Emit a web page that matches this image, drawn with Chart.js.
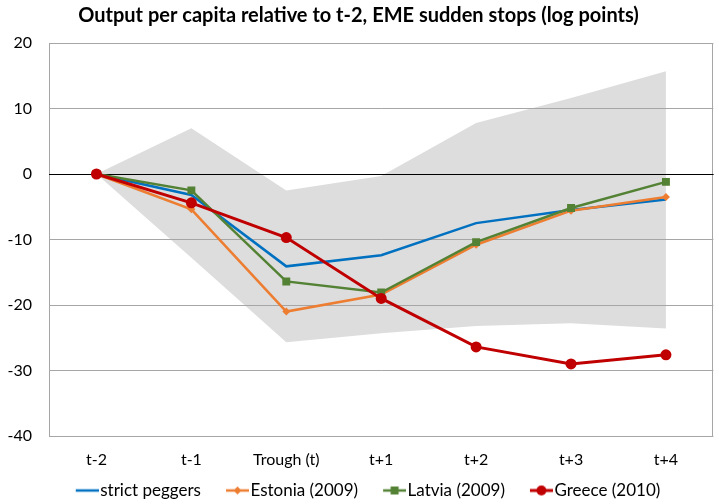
<!DOCTYPE html>
<html>
<head>
<meta charset="utf-8">
<script src="https://cdn.jsdelivr.net/npm/chart.js@4/dist/chart.umd.min.js"></script>
<style>
  html, body { margin: 0; padding: 0; background: #fff; }
  #wrap { width: 719px; height: 504px; }
</style>
</head>
<body>
<div id="wrap"><canvas id="chart" width="719" height="504"></canvas></div>
<script>
const categories = ['t-2', 't-1', 'Trough (t)', 't+1', 't+2', 't+3', 't+4'];
const strictPeggers = [0, -3.2, -14.1, -12.4, -7.5, -5.5, -3.9];
const estonia = [0, -5.4, -21.0, -18.4, -10.8, -5.6, -3.5];
const latvia = [0, -2.5, -16.4, -18.1, -10.4, -5.2, -1.2];
const greece = [0, -4.4, -9.7, -19.0, -26.4, -29.0, -27.6];
const bandUpper = [0, 7.0, -2.5, -0.3, 7.8, 11.6, 15.7];
const bandLower = [0, -12.8, -25.7, -24.3, -23.2, -22.8, -23.6];
const yMin = -40, yMax = 20, yStep = 10;

const FONT = 'Lato';
const GRID = '#a6a6a6';

// legend icon: short line with the series marker, drawn at the right end of the image
function legendIcon(color, marker, size, lw) {
    const W = 49, H = 16;
    const c = document.createElement('canvas');
    c.width = W; c.height = H;
    const ctx = c.getContext('2d');
    const x0 = W - 23, x1 = W, cy = H / 2, cx = (x0 + x1) / 2;
    ctx.strokeStyle = color;
    ctx.fillStyle = color;
    ctx.lineWidth = lw;
    ctx.beginPath();
    ctx.moveTo(x0, cy);
    ctx.lineTo(x1, cy);
    ctx.stroke();
    if (marker === 'diamond') {
        ctx.beginPath();
        ctx.moveTo(cx, cy - size); ctx.lineTo(cx + size, cy);
        ctx.lineTo(cx, cy + size); ctx.lineTo(cx - size, cy);
        ctx.closePath(); ctx.fill();
    } else if (marker === 'square') {
        ctx.fillRect(cx - size, cy - size, size * 2, size * 2);
    } else if (marker === 'circle') {
        ctx.beginPath();
        ctx.arc(cx, cy, size, 0, Math.PI * 2);
        ctx.fill();
    }
    return c;
}

const plotBorder = {
    id: 'plotBorder',
    beforeDatasetsDraw(chart) {
        const a = chart.chartArea;
        const ctx = chart.ctx;
        ctx.save();
        ctx.strokeStyle = GRID;
        ctx.lineWidth = 1;
        ctx.strokeRect(Math.round(a.left) + 0.5, Math.round(a.top) + 0.5,
            Math.round(a.right - a.left) - 1, Math.round(a.bottom - a.top));
        // zero line on top of the grey border/grid
        const y0 = Math.round(chart.scales.y.getPixelForValue(0)) + 0.5;
        ctx.strokeStyle = '#000';
        ctx.beginPath();
        ctx.moveTo(a.left, y0);
        ctx.lineTo(a.right, y0);
        ctx.stroke();
        ctx.restore();
    }
};

const series = [
    { label: 'strict peggers', data: strictPeggers, color: '#0070C0', style: false, radius: 0, icon: legendIcon('#0070C0', null, 0, 2.5), width: 2.5, order: 4 },
    { label: 'Estonia (2009)', data: estonia, color: '#ED7D31', style: 'rectRot', radius: 4, icon: legendIcon('#ED7D31', 'diamond', 4, 2.5), width: 2.5, order: 3 },
    { label: 'Latvia (2009)', data: latvia, color: '#548235', style: 'rect', radius: 5.6, icon: legendIcon('#548235', 'square', 4, 2.5), width: 2.5, order: 2 },
    { label: 'Greece (2010)', data: greece, color: '#C00000', style: 'circle', radius: 5.5, icon: legendIcon('#C00000', 'circle', 5, 3), width: 3, order: 1 }
];

const datasets = series.map(s => ({
    label: s.label,
    data: s.data,
    borderColor: s.color,
    backgroundColor: s.color,
    borderWidth: s.width,
    pointStyle: s.style,
    pointRadius: s.radius,
    pointBorderWidth: 0,
    pointBackgroundColor: s.color,
    tension: 0,
    fill: false,
    order: s.order,
    legendIcon: s.icon
}));

datasets.push({
    label: 'band upper',
    data: bandUpper,
    borderWidth: 0,
    pointRadius: 0,
    backgroundColor: '#dddddd',
    fill: '+1',
    order: 5
});
datasets.push({
    label: 'band lower',
    data: bandLower,
    borderWidth: 0,
    pointRadius: 0,
    fill: false,
    order: 6
});

new Chart(document.getElementById('chart'), {
    type: 'line',
    data: { labels: categories, datasets },
    options: {
        responsive: false,
        animation: false,
        layout: { padding: { left: 0, right: 2, top: 0, bottom: -5 } },
        plugins: {
            filler: { drawTime: 'beforeDraw' },
            tooltip: { enabled: false },
            title: {
                display: true,
                text: 'Output per capita relative to t-2, EME sudden stops (log points)',
                color: '#000',
                font: { family: FONT, size: 20, weight: 'bold' },
                padding: { top: 4, bottom: 15 }
            },
            legend: {
                position: 'bottom',
                labels: {
                    color: '#000',
                    font: { family: FONT, size: 17 },
                    usePointStyle: true,
                    pointStyleWidth: 35,
                    padding: 6,
                    generateLabels: chart => chart.data.datasets.slice(0, 4).map((d, i) => ({
                        text: d.label,
                        pointStyle: d.legendIcon,
                        fillStyle: d.borderColor,
                        strokeStyle: d.borderColor,
                        lineWidth: 0,
                        fontColor: '#000',
                        hidden: false,
                        datasetIndex: i
                    }))
                }
            }
        },
        scales: {
            x: {
                offset: true,
                grid: { display: false, drawTicks: false },
                border: { display: false },
                ticks: { color: '#000', font: { family: FONT, size: 16 }, padding: 14, maxRotation: 0 },
                afterFit: scale => { scale.height = 40; }
            },
            y: {
                min: yMin,
                max: yMax,
                ticks: { stepSize: yStep, color: '#000', font: { family: FONT, size: 16 }, padding: 17 },
                grid: {
                    drawTicks: false,
                    color: ctx => ctx.tick && ctx.tick.value === 0 ? '#000' : GRID,
                    lineWidth: 1
                },
                border: { display: false },
                afterFit: scale => { scale.width = 49; }
            }
        }
    },
    plugins: [plotBorder]
});
</script>
</body>
</html>
